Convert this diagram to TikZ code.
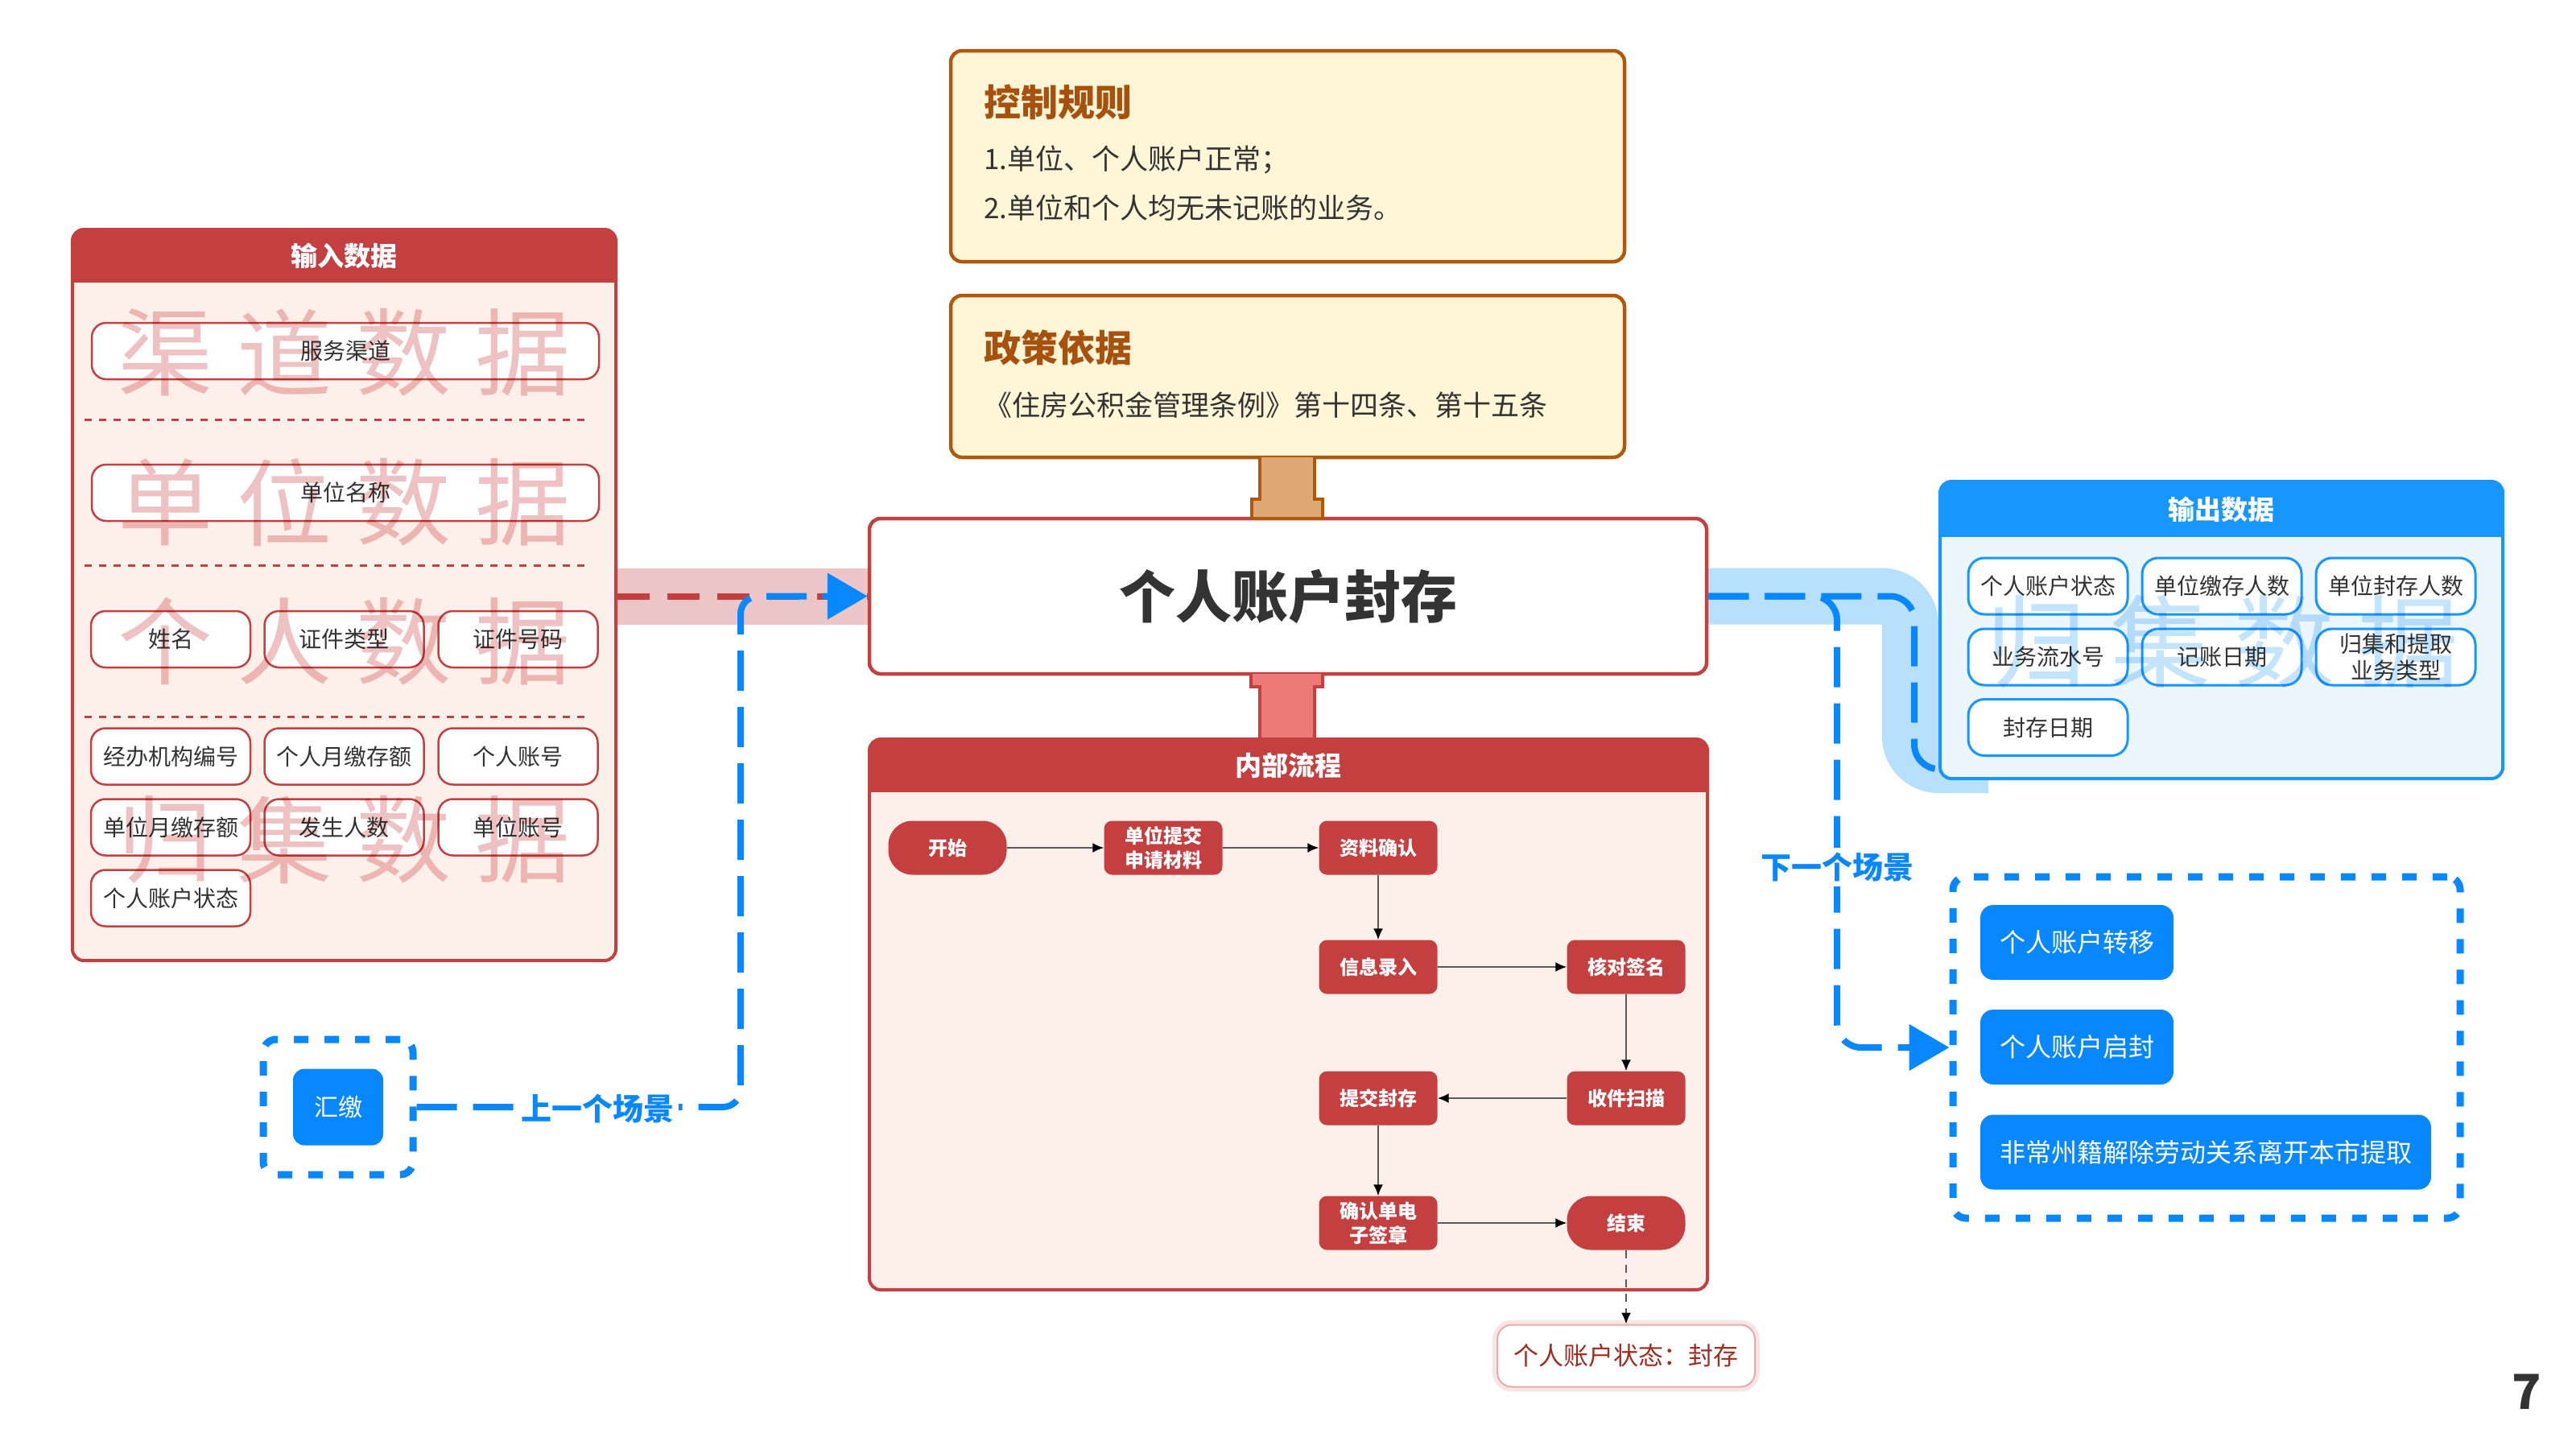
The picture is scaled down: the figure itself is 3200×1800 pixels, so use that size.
\documentclass[tikz,border=0pt]{standalone}
\usepackage{fontspec}
\setmainfont{Noto Sans CJK SC}
\usetikzlibrary{arrows.meta}
\pgfdeclarelayer{background}
\pgfsetlayers{background,main}

\definecolor{redc}{RGB}{196,64,64}
\definecolor{inbg}{RGB}{253,239,233}
\definecolor{inkc}{RGB}{51,51,51}
\definecolor{brownc}{RGB}{176,88,12}
\definecolor{browntxt}{RGB}{166,82,14}
\definecolor{creamc}{RGB}{255,246,216}
\definecolor{tanc}{RGB}{224,168,116}
\definecolor{salmonc}{RGB}{236,122,118}
\definecolor{pinkband}{RGB}{236,198,198}
\definecolor{bluec}{RGB}{24,150,255}
\definecolor{bluedk}{RGB}{8,135,255}
\definecolor{outbg}{RGB}{236,246,255}
\definecolor{blueband}{RGB}{184,224,252}
\definecolor{wmred}{RGB}{238,194,194}
\definecolor{wmblue}{RGB}{196,228,252}
\definecolor{statustxt}{RGB}{160,44,32}
\definecolor{glowc}{RGB}{232,170,170}
\definecolor{arrowc}{RGB}{90,90,90}

\newcommand\fsz[2]{\fontsize{#1}{#2}\selectfont}

\tikzset{
	inframe/.style={draw=redc, line width=4pt, fill=inbg, rounded corners=14pt},
	outframe/.style={draw=bluec, line width=4pt, fill=outbg, rounded corners=14pt},
	headtxt/.style={inner sep=0pt, text=white, font=\bfseries\fsz{33}{40}},
	initem/.style={draw=redc, line width=2.5pt, fill=white, rounded corners=18pt, minimum height=70pt, inner sep=0pt, text=inkc, font=\fsz{28}{34}},
	outitem/.style={draw=bluec, line width=3pt, fill=white, rounded corners=20pt, minimum width=198pt, minimum height=70pt, inner sep=0pt, align=center, text=inkc, font=\fsz{28}{33}},
	sepline/.style={draw=redc, line width=3pt, dash pattern=on 9pt off 9pt},
	wmark/.style={inner sep=0pt, text=wmred, font=\fsz{118}{130}},
	ruleframe/.style={draw=brownc, line width=4.5pt, fill=creamc, rounded corners=14pt, minimum width=837pt},
	ruletitle/.style={anchor=west, inner sep=0pt, text=browntxt, font=\bfseries\fsz{46}{54}},
	ruletext/.style={anchor=west, inner sep=0pt, text=inkc, font=\fsz{35}{42}},
	mainbox/.style={draw=redc, line width=4.5pt, fill=white, rounded corners=14pt, minimum width=1040pt, minimum height=193pt, text=inkc, font=\bfseries\fsz{70}{80}},
	stepbox/.style={fill=redc, rounded corners=10pt, minimum width=147pt, minimum height=67pt, inner sep=0pt, align=center, text=white, font=\bfseries\fsz{24}{30}},
	termbox/.style={stepbox, rounded corners=30pt},
	flowarrow/.style={draw=arrowc, line width=2pt, -{Latex[length=14pt,width=12pt,color=black]}},
	statusbox/.style={draw=glowc, line width=2pt, fill=white, rounded corners=18pt, minimum width=320pt, minimum height=77pt, text=statustxt, font=\fsz{31}{36},
		preaction={draw=glowc, line width=12pt, opacity=0.3}},
	bluedash/.style={draw=bluedk, line width=8pt, dash pattern=on 50pt off 20pt},
	reddash/.style={draw=redc, line width=8pt, dash pattern=on 40pt off 22pt},
	sceneframe/.style={draw=bluedk, line width=9pt, dash pattern=on 18pt off 20pt, rounded corners=16pt},
	scenebox/.style={fill=bluedk, rounded corners=16pt, minimum height=93pt, inner sep=0pt, text=white, font=\fsz{32}{38}},
	scenelabel/.style={fill=white, inner sep=6pt, text=bluedk, font=\bfseries\fsz{38}{44}},
	bigtip/.style={-{Triangle[length=50pt,width=56pt]}}
}

\begin{document}
\begin{tikzpicture}[x=1pt,y=1pt,yscale=-1,xscale=1]
	\useasboundingbox (0,0) rectangle (3200,1800);

	%Shape: Rounded Rectangle [id:rules]
	\node[ruleframe, minimum height=262pt] (rules) at (1599.5,194) {};
	\node[ruletitle] (rulesT) at (1222,127) {控制规则};
	\node[ruletext] (rule1) at (1222,198) {1.单位、个人账户正常；};
	\node[ruletext] (rule2) at (1222,258) {2.单位和个人均无未记账的业务。};

	%Shape: Rounded Rectangle [id:basis]
	\node[ruleframe, minimum height=201pt] (basis) at (1599.5,467.5) {};
	\node[ruletitle] (basisT) at (1222,432) {政策依据};
	\node[ruletext] (basis1) at (1222,503) {《住房公积金管理条例》第十四条、第十五条};

	%Shape: Main task
	\node[mainbox] (main) at (1600,740.5) {个人账户封存};

	%Shape: Rounded Rectangle [id:input]
	\node[inframe, minimum width=675pt, minimum height=908pt] (input) at (427.5,739) {};
	\begin{scope}
		\clip[rounded corners=14pt] (90,285) rectangle (765,1193);
		\fill[redc] (90,285) rectangle (765,351);
	\end{scope}
	\node[headtxt] (inputT) at (427.5,318) {输入数据};

	\node[initem, minimum width=630pt] (channel) at (429,436) {服务渠道};
	\draw[sepline] (105,521) -- (734,521);
	\node[initem, minimum width=630pt] (unitname) at (429,612) {单位名称};
	\draw[sepline] (105,702) -- (734,702);
	\node[initem, minimum width=198pt] (name) at (212,794) {姓名};
	\node[initem, minimum width=198pt] (idtype) at (427.5,794) {证件类型};
	\node[initem, minimum width=198pt] (idno) at (643.5,794) {证件号码};
	\draw[sepline] (105,890) -- (734,890);
	\node[initem, minimum width=198pt] (agency) at (212,939.5) {经办机构编号};
	\node[initem, minimum width=198pt] (perpay) at (427.5,939.5) {个人月缴存额};
	\node[initem, minimum width=198pt] (peracc) at (643.5,939.5) {个人账号};
	\node[initem, minimum width=198pt] (unitpay) at (212,1027.5) {单位月缴存额};
	\node[initem, minimum width=198pt] (count) at (427.5,1027.5) {发生人数};
	\node[initem, minimum width=198pt] (unitacc) at (643.5,1027.5) {单位账号};
	\node[initem, minimum width=198pt] (perstate) at (212,1115.5) {个人账户状态};

	% watermarks
	\begin{scope}[blend mode=multiply]
		\foreach \ch [count=\i from 0] in {渠,道,数,据} \node[wmark] (wmA\i) at (205+148*\i,438) {\ch};
		\foreach \ch [count=\i from 0] in {单,位,数,据} \node[wmark] (wmB\i) at (205+148*\i,624) {\ch};
		\foreach \ch [count=\i from 0] in {个,人,数,据} \node[wmark] (wmC\i) at (205+148*\i,797) {\ch};
		\foreach \ch [count=\i from 0] in {归,集,数,据} \node[wmark] (wmD\i) at (205+148*\i,1043) {\ch};
	\end{scope}

	%Shape: Rounded Rectangle [id:flow]
	\node[inframe, minimum width=1041pt, minimum height=684pt] (flow) at (1600.5,1260) {};
	\begin{scope}
		\clip[rounded corners=14pt] (1080,918) rectangle (2121,1602);
		\fill[redc] (1080,918) rectangle (2121,984);
	\end{scope}
	\node[headtxt] (flowT) at (1600.5,951) {内部流程};

	\node[termbox] (start) at (1177,1053) {开始};
	\node[stepbox] (submit) at (1445,1053) {单位提交\\申请材料};
	\node[stepbox] (confirm) at (1712,1053) {资料确认};
	\node[stepbox] (entry) at (1712,1201) {信息录入};
	\node[stepbox] (check) at (2020,1201) {核对签名};
	\node[stepbox] (scan) at (2020,1364) {收件扫描};
	\node[stepbox] (seal) at (1712,1364) {提交封存};
	\node[stepbox] (esign) at (1712,1519) {确认单电\\子签章};
	\node[termbox] (stop) at (2020,1519) {结束};
	\node[statusbox] (status) at (2020,1684) {个人账户状态：封存};

	\draw[flowarrow] (start) -- (submit);
	\draw[flowarrow] (submit) -- (confirm);
	\draw[flowarrow] (confirm) -- (entry);
	\draw[flowarrow] (entry) -- (check);
	\draw[flowarrow] (check) -- (scan);
	\draw[flowarrow] (scan) -- (seal);
	\draw[flowarrow] (seal) -- (esign);
	\draw[flowarrow] (esign) -- (stop);
	\draw[flowarrow, dash pattern=on 10pt off 8pt] (stop) -- (status);

	%Shape: Rounded Rectangle [id:outbox]
	\node[outframe, minimum width=699pt, minimum height=369pt] (outbox) at (2759.5,782.5) {};
	\begin{scope}
		\clip[rounded corners=14pt] (2410,598) rectangle (3109,967);
		\fill[bluec] (2410,598) rectangle (3109,667);
	\end{scope}
	\node[headtxt] (outboxT) at (2759.5,633) {输出数据};

	\node[outitem] (ostate) at (2544,728) {个人账户状态};
	\node[outitem] (opaynum) at (2760,728) {单位缴存人数};
	\node[outitem] (osealnum) at (2976,728) {单位封存人数};
	\node[outitem] (oserial) at (2544,816) {业务流水号};
	\node[outitem] (obook) at (2760,816) {记账日期};
	\node[outitem] (otype) at (2976,816) {归集和提取\\业务类型};
	\node[outitem] (odate) at (2544,903.5) {封存日期};

	\begin{scope}[blend mode=multiply]
		\foreach \ch [count=\i from 0] in {归,集,数,据} \node[wmark, text=wmblue, font=\fsz{125}{135}] (wmE\i) at (2530+154*\i,797) {\ch};
	\end{scope}

	% stems
	\draw[brownc, line width=4pt, fill=tanc] (1565,568) -- (1565,620) -- (1555,620) -- (1555,644) -- (1643,644) -- (1643,620) -- (1633,620) -- (1633,568);
	\draw[redc, line width=4pt, fill=salmonc] (1554,837) -- (1554,853) -- (1565,853) -- (1565,918) -- (1633,918) -- (1633,853) -- (1643,853) -- (1643,837);

	% bands
	\begin{pgfonlayer}{background}
		\draw[pinkband, line width=70pt] (input.east |- main.west) -- (main.west);
		\draw[blueband, line width=70pt, rounded corners=35pt] (main.east) -| (2373,950) -- (2470,950);
	\end{pgfonlayer}

	% previous scene
	\node[sceneframe, minimum width=186pt, minimum height=168pt] (prevframe) at (420,1375) {};
	\node[scenebox, minimum width=112pt, minimum height=95pt, rounded corners=14pt, font=\fsz{30}{36}] (huijiao) at (420,1375) {汇缴};

	% next scene
	\node[sceneframe, minimum width=630pt, minimum height=424pt] (nextframe) at (2741,1301) {};
	\node[scenebox, minimum width=240pt] (move) at (2580,1170.5) {个人账户转移};
	\node[scenebox, minimum width=240pt] (unseal) at (2580,1300.5) {个人账户启封};
	\node[scenebox, minimum width=560pt] (leave) at (2740,1431) {非常州籍解除劳动关系离开本市提取};

	% connectors
	\draw[reddash] (input.east |- main.west) -- (main.west);
	\coordinate (bendL) at (920,1375);
	\draw[bluedash, bigtip, rounded corners=22pt] (prevframe.east) -- (bendL) |- (main.west);
	\coordinate (bendR) at (2282,1301);
	\draw[bluedash, bigtip, rounded corners=30pt] (main.east) -| (bendR) -- (nextframe.west);
	\coordinate (bendO) at (2378,955);
	\draw[bluedash, rounded corners=30pt] (main.east) -| (bendO) -- (bendO -| outbox.west);

	% Text Node
	\node[scenelabel] (prevT) at (742,1377) {上一个场景};
	% Text Node
	\node[scenelabel] (nextT) at (2282,1077) {下一个场景};
	% Text Node
	\node[inner sep=0pt, text=inkc, font=\bfseries\fsz{60}{70}] (pagenum) at (3139,1729) {7};

\end{tikzpicture}
\end{document}
